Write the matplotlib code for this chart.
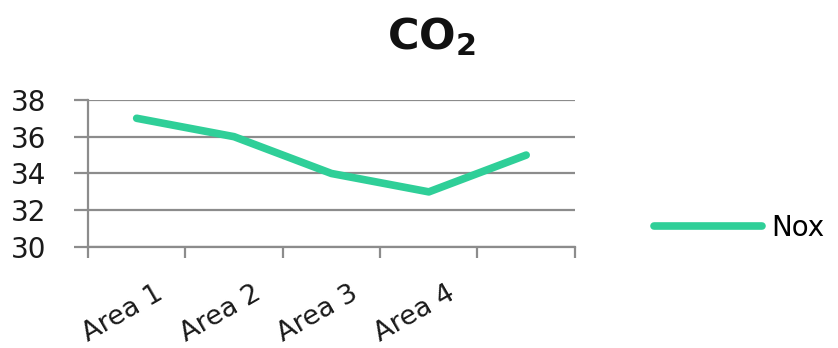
import matplotlib
matplotlib.use("Agg")
import matplotlib.pyplot as plt
import matplotlib.transforms as mtransforms

# Dati
categories = ["Area 1", "Area 2", "Area 3", "Area 4", ""]
nox = [37, 36, 34, 33, 35]
y_ticks = [30, 32, 34, 36, 38]

plt.rcParams['font.family'] = ['DejaVu Sans']
plt.rcParams['mathtext.fontset'] = 'dejavusans'

LINE_COLOR = '#2fcf98'
GRID_COLOR = '#8c8c8c'

fig = plt.figure(figsize=(8.38, 3.48), dpi=100)
ax = fig.add_axes([0.105, 0.290, 0.581, 0.423])

x = [i + 0.5 for i in range(len(nox))]
ax.plot(x, nox, color=LINE_COLOR, linewidth=5.5, solid_capstyle='round',
        solid_joinstyle='round', label='Nox')

ax.set_xlim(0, len(categories))
ax.set_ylim(30, 38)
ax.set_yticks(y_ticks)
ax.set_yticklabels([str(v) for v in y_ticks], fontsize=20, color='#1a1a1a')
ax.yaxis.grid(True, color=GRID_COLOR, linewidth=1.6)
ax.set_axisbelow(True)
ax.tick_params(axis='y', length=10, width=1.6, color=GRID_COLOR, pad=20)

# tick agli estremi delle categorie, etichette al centro
ax.set_xticks(range(len(categories) + 1))
ax.set_xticklabels([])
ax.set_xticks(x, minor=True)
ax.set_xticklabels(categories, minor=True, rotation=30, ha='right', va='top',
                   rotation_mode='anchor', fontsize=19.5, color='#1a1a1a')
ax.tick_params(axis='x', which='major', length=8, width=1.6, color=GRID_COLOR)
ax.tick_params(axis='x', which='minor', length=0, pad=24)
shift = mtransforms.ScaledTranslation(0.18, 0, fig.dpi_scale_trans)
for lbl in ax.get_xticklabels(minor=True):
    lbl.set_transform(lbl.get_transform() + shift)

for side in ['top', 'right']:
    ax.spines[side].set_visible(False)
for side in ['left', 'bottom']:
    ax.spines[side].set_color(GRID_COLOR)
    ax.spines[side].set_linewidth(1.6)

fig.text(0.515, 0.895, r'CO$_\mathbf{2}$', fontsize=31, fontweight='bold',
         ha='center', va='center', color='#111111')

fig.legend(loc='center left', bbox_to_anchor=(0.780, 0.345), frameon=False,
           fontsize=20, handlelength=3.9, handletextpad=0.35,
           borderpad=0, borderaxespad=0)

fig.savefig('out.png', dpi=100)
